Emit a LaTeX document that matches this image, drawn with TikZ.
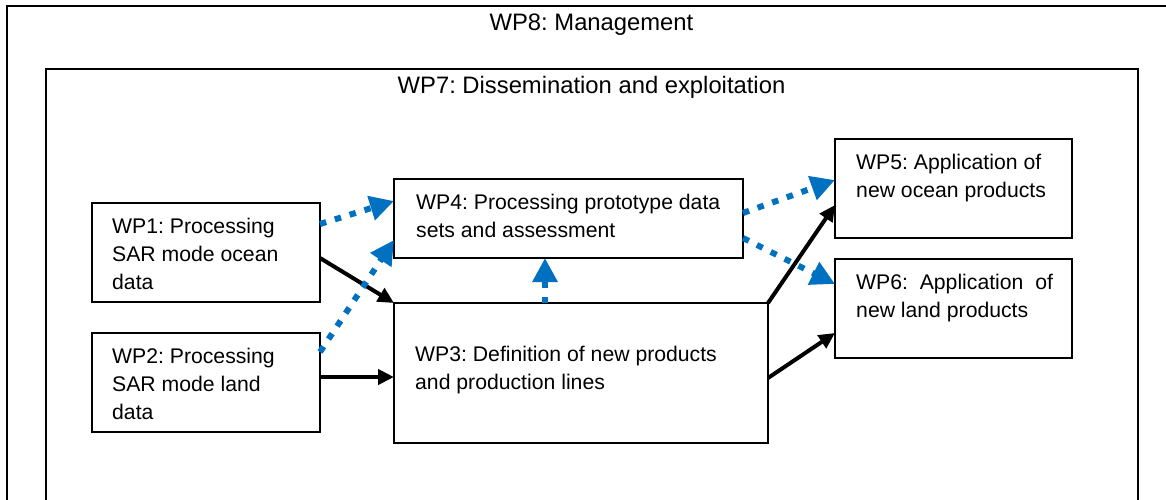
\documentclass[tikz,border=0pt]{standalone}
\usepackage{fontspec}
\setmainfont{Liberation Sans}
\usetikzlibrary{arrows.meta}
\definecolor{flowblue}{RGB}{0,112,192}
\frenchspacing
\begin{document}
\begin{tikzpicture}[x=1pt,y=-1pt,
  frame/.style={draw, line width=2pt, inner sep=0pt, outer sep=0pt, anchor=north west, minimum height=540pt},
  wpbox/.style={draw, line width=1.4pt, inner sep=0pt, outer sep=0pt, anchor=north west},
  boxtext/.style={anchor=north west, inner sep=0pt, align=left, font=\fontsize{21.2}{28}\selectfont},
  titletext/.style={anchor=base, inner sep=0pt, font=\fontsize{23.8}{28}\selectfont},
  solidarrow/.style={line width=4pt, -{Triangle[length=16pt,width=15pt]}},
  dotarrow/.style={flowblue, line width=6pt, dash pattern=on 6.5pt off 9pt, -{Triangle[length=24pt,width=24pt]}}]
\useasboundingbox (0,0) rectangle (1166,499);

% nested work-package frames
\node[frame, minimum width=1200pt] (wp8) at (6.5,5.5) {};
\node[frame, minimum width=1092pt] (wp7) at (45.5,69) {};
\node[titletext] (wp8title) at (591.5,30.5) {WP8: Management};
\node[titletext] (wp7title) at (591.5,93) {WP7: Dissemination and exploitation};

% work-package boxes
\node[wpbox, minimum width=228pt, minimum height=99pt] (wp1) at (92,203) {};
\node[wpbox, minimum width=228pt, minimum height=99pt] (wp2) at (92,333) {};
\node[wpbox, minimum width=349pt, minimum height=79pt] (wp4) at (394,179) {};
\node[wpbox, minimum width=374pt, minimum height=140pt] (wp3) at (394,303) {};
\node[wpbox, minimum width=237pt, minimum height=99pt] (wp5) at (835,139) {};
\node[wpbox, minimum width=237pt, minimum height=99pt] (wp6) at (835,259) {};

% box captions
\node[boxtext] (wp1text) at (112,217.7) {WP1: Processing\\SAR mode ocean\\data};
\node[boxtext] (wp2text) at (112,347.7) {WP2: Processing\\SAR mode land\\data};
\node[boxtext] (wp4text) at (416,193.7) {WP4: Processing prototype data\\sets and assessment};
\node[boxtext] (wp3text) at (415,345.7) {WP3: Definition of new products\\and production lines};
\node[boxtext] (wp5text) at (856,153.7) {WP5: Application of\\new ocean products};
\node[boxtext] (wp6text) at (856,273.7) {WP6:\ \ Application\ \ of\\new land products};

% solid flows
\draw[solidarrow] ([yshift=-5.5pt]wp1.east) -- (wp3.north west);
\draw[solidarrow] ([yshift=5.5pt]wp2.east) -- ([yshift=-4pt]wp3.west);
\draw[solidarrow] (wp3.north east) -- ([yshift=-16.5pt]wp5.west);
\draw[solidarrow] ([yshift=-5pt]wp3.east) -- ([yshift=-24.5pt]wp6.west);

% dotted feedback flows
\draw[dotarrow] ([yshift=28.5pt]wp1.east) -- ([yshift=17.5pt]wp4.west);
\draw[dotarrow] ([yshift=30.5pt]wp2.east) -- ([yshift=-21.5pt]wp4.west);
\draw[dotarrow] ([xshift=-36pt]wp3.north) -- ([xshift=-23.5pt]wp4.south);
\draw[dotarrow] ([yshift=5.5pt]wp4.east) -- ([yshift=8.5pt]wp5.west);
\draw[dotarrow] ([yshift=-19.5pt]wp4.east) -- ([yshift=24.5pt]wp6.west);
\end{tikzpicture}
\end{document}
